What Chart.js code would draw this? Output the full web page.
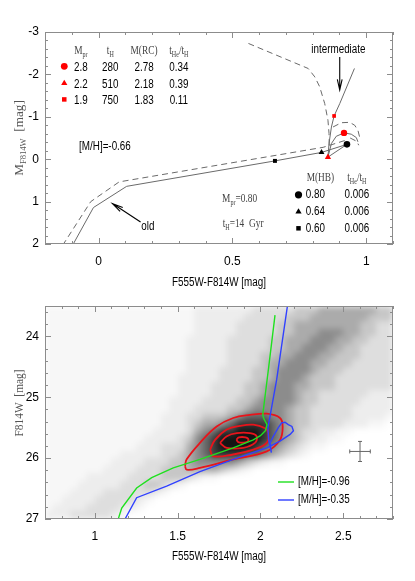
<!DOCTYPE html>
<html>
<head>
<meta charset="utf-8">
<script src="https://cdn.jsdelivr.net/npm/chart.js@4.4.0/dist/chart.umd.min.js"></script>
<style>
  html, body { margin: 0; padding: 0; background: #fff; }
  #wrap { position: relative; width: 415px; height: 581px; }
  canvas { position: absolute; left: 0; }
</style>
</head>
<body>
<div id="wrap">
  <canvas id="top" width="415" height="290" style="top:0;width:415px;height:290px"></canvas>
  <canvas id="bottom" width="415" height="291" style="top:290px;width:415px;height:291px"></canvas>
</div>
<script>
// ---------- top panel: tracks, colour F555W-F814W vs M_F814W ----------
const oldSolid = [[-0.097, 2.03], [-0.019, 1.14], [0.105, 0.64], [0.659, 0.04], [0.833, -0.16], [0.928, -0.35]];
const oldDashed = [[-0.134, 2.03], [-0.029, 1.0], [0.077, 0.535], [0.839, -0.28], [0.93, -0.46]];
const interSolid = [[0.956, -2.14], [0.901, -1.31], [0.880, -1.02], [0.870, -0.76], [0.861, -0.37], [0.857, -0.05]];
const interLoop = [[0.857, -0.05], [0.870, -0.37], [0.888, -0.54], [0.917, -0.62], [0.944, -0.59], [0.963, -0.51], [0.969, -0.41]];
const interLink = [[0.857, -0.05], [0.928, -0.35]];
const interDashed = [[0.56, -2.73], [0.783, -2.14], [0.808, -1.94], [0.826, -1.71], [0.845, -1.31], [0.857, -0.92], [0.861, -0.61], [0.862, -0.30]];
const interDashedLoop = [[0.876, -0.76], [0.907, -0.86], [0.938, -0.87], [0.957, -0.80], [0.969, -0.68], [0.975, -0.53]];
const interDashedTail = [[0.94, -0.50], [0.965, -0.42], [0.972, -0.33]];

// red clump stars (circle, triangle, square) and HB stars
const rcColor = [0.917, 0.857, 0.880];
const rcMag = [-0.62, -0.05, -1.02];
const hbColor = [0.928, 0.833, 0.659];
const hbMag = [-0.35, -0.16, 0.04];
const markerShapes = ['circle', 'triangle', 'rect'];

// tables printed in the panel
const rcMpr = ['2.8', '2.2', '1.9'];
const rcTH = ['280', '510', '750'];
const rcMass = ['2.78', '2.18', '1.83'];
const rcRatio = ['0.34', '0.39', '0.11'];
const hbMass = ['0.80', '0.64', '0.60'];
const hbRatio = ['0.006', '0.006', '0.006'];

const topXTicks = [0, 0.5, 1];
const topYTicks = [-3, -2, -1, 0, 1, 2];

// ---------- bottom panel: observed CMD ----------
const isoPoor = [[1.142, 27.0], [1.163, 26.82], [1.253, 26.49], [1.344, 26.32], [1.474, 26.16], [1.635, 26.02], [1.836, 25.83], [1.957, 25.70], [2.0, 25.63], [2.03, 25.55], [2.04, 25.45], [2.02, 25.35], [2.014, 25.29], [2.05, 24.5], [2.088, 23.65]];
const isoRich = [[1.183, 27.0], [1.253, 26.65], [1.434, 26.46], [1.635, 26.22], [1.836, 26.02], [2.038, 25.83], [2.118, 25.72], [2.179, 25.61], [2.199, 25.55], [2.19, 25.48], [2.168, 25.45], [2.148, 25.41], [2.128, 25.42], [2.108, 25.50], [2.078, 25.64], [2.058, 25.75], [2.066, 25.91], [2.05, 25.7], [2.045, 25.5], [2.058, 25.31], [2.098, 24.71], [2.163, 23.5]];
const contour1 = [[1.545, 26.13], [1.555, 26.19], [1.635, 26.16], [1.836, 26.02], [2.038, 25.89], [2.118, 25.70], [2.134, 25.48], [2.118, 25.34], [2.038, 25.27], [1.937, 25.29], [1.836, 25.34], [1.736, 25.48], [1.635, 25.75], [1.555, 26.02], [1.545, 26.13]];
const contour2 = [[1.696, 25.86], [1.716, 25.97], [1.836, 25.94], [1.957, 25.86], [2.038, 25.75], [2.048, 25.59], [2.028, 25.51], [1.957, 25.45], [1.876, 25.47], [1.797, 25.53], [1.726, 25.70], [1.696, 25.86]];
const contour3 = [[1.756, 25.75], [1.797, 25.83], [1.897, 25.83], [1.967, 25.75], [1.977, 25.64], [1.937, 25.59], [1.857, 25.59], [1.797, 25.64], [1.756, 25.75]];
const contour4 = [[1.855, 25.70], [1.87, 25.74], [1.91, 25.74], [1.928, 25.70], [1.91, 25.66], [1.87, 25.66], [1.855, 25.70]];
const errColor = 2.601, errMag = 25.89, errColorSig = 0.062, errMagSig = 0.165;
const legendLabels = ['[M/H]=-0.96', '[M/H]=-0.35'];
const botXTicks = [1, 1.5, 2, 2.5];
const botYTicks = [24, 25, 26, 27];

// star density: columns of 0.05 mag from 0.70, rows of 0.125 mag from 23.5 (0 = empty, 9 = black)
const densColorMin = 0.70, densColorStep = 0.05, densMagMin = 23.5, densMagStep = 0.125;
const densityRows = [
  '1111111111 1111111122 2222233333 4445555555 44',
  '1111111111 1111111122 2222333334 4455555554 44',
  '1111111111 1111111122 2223333344 5555555544 33',
  '1111111111 1111111122 2223333344 5556665544 33',
  '1111111111 1111111222 2233333445 5566655443 33',
  '1111111111 1111111222 2233333445 5666554433 33',
  '1111111111 1111111222 2233334455 6665544433 33',
  '1111111111 1111111222 2233334556 6655444333 33',
  '1111111111 1111111222 2333344566 6654443333 33',
  '1111111111 1111112222 2333344566 6544433333 33',
  '1111111111 1111112222 3333445666 5544433333 33',
  '1111111111 1111112222 3333445666 5443333332 22',
  '1111111111 1111122223 3334456666 5443333322 22',
  '1111111111 1111122233 3344566665 4433333222 22',
  '1111111111 1111222334 4456777665 4433333222 21',
  '1111111111 1111222345 5678888765 4433332221 10',
  '1111111111 1112222356 7889998765 4332211000 00',
  '1111111111 1122223467 8999998765 4322110000 00',
  '1111111111 1222333567 8999987654 3211000000 00',
  '1111111112 2222334567 8888776543 2100000000 00',
  '1111111122 2233344566 6665432110 0000000000 00',
  '1111111222 2333444555 5432100000 0000000000 00',
  '1111122222 3333444321 1000000000 0000000000 00',
  '1111222223 3344321000 0000000000 0000000000 00',
  '1112222333 3332100000 0000000000 0000000000 00',
  '1122223333 3210000000 0000000000 0000000000 00',
  '1222233332 2100000000 0000000000 0000000000 00',
  '2223333321 0000000000 0000000000 0000000000 00'
];

const SANS = '"Liberation Sans", Arial, sans-serif';
const SERIF = '"Liberation Serif", "Times New Roman", serif';
const shade = [0, 0.03, 0.07, 0.13, 0.22, 0.33, 0.45, 0.6, 0.78, 0.92];
Chart.defaults.font.family = SANS;

// text with optional subscripts: parts = [[text, isSub], ...]
function richWidth(ctx, parts, size, fam) {
  let w = 0;
  for (const [t, sub] of parts) { ctx.font = (sub ? size * 0.65 : size) + 'px ' + fam; w += ctx.measureText(t).width; }
  return w;
}
function drawText(ctx, parts, x, y, o) {
  if (typeof parts === 'string') parts = [[parts, 0]];
  const size = o.size || 12, fam = o.family || SANS, sx = o.sx || 1;
  ctx.save();
  const w = richWidth(ctx, parts, size, fam) * sx;
  const x0 = o.align === 'left' ? x : o.align === 'right' ? x - w : x - w / 2;
  ctx.translate(x0, y);
  ctx.scale(sx, 1);
  ctx.fillStyle = o.color || '#000';
  ctx.textBaseline = 'middle';
  let cx = 0;
  for (const [t, sub] of parts) {
    ctx.font = (sub ? size * 0.65 : size) + 'px ' + fam;
    ctx.fillText(t, cx, sub ? size * 0.32 : 0);
    cx += ctx.measureText(t).width;
  }
  ctx.restore();
}
function rotText(ctx, parts, x, y, o) {
  ctx.save(); ctx.translate(x, y); ctx.rotate(-Math.PI / 2);
  drawText(ctx, parts, 0, 0, o);
  ctx.restore();
}
function arrow(ctx, x0, y0, x1, y1) {
  const a = Math.atan2(y1 - y0, x1 - x0), L = 11;
  ctx.beginPath();
  ctx.moveTo(x0, y0); ctx.lineTo(x1, y1);
  ctx.moveTo(x1 - L * Math.cos(a - 0.22), y1 - L * Math.sin(a - 0.22)); ctx.lineTo(x1, y1);
  ctx.lineTo(x1 - L * Math.cos(a + 0.22), y1 - L * Math.sin(a + 0.22));
  ctx.stroke();
}

const SERIF_TXT = { family: SERIF, size: 13, sx: 0.72, color: '#444' };
const SANS_TXT = { family: SANS, size: 12, sx: 0.82, color: '#000' };

function pts(list) { return list.map(([x, y]) => ({ x, y })); }
function track(list, dashed) {
  return { data: pts(list), showLine: true, pointRadius: 0, borderColor: '#6a6a6a', borderWidth: 1, borderDash: dashed ? [6, 4] : [], tension: 0 };
}
function marks(xs, ys, color, radii) {
  return { data: xs.map((x, i) => ({ x, y: ys[i] })), showLine: false, pointStyle: markerShapes, pointRadius: radii, backgroundColor: color, borderColor: color, borderWidth: 0 };
}

// frame with inward ticks on all four sides
function frameTicks(xMinor, xMajor, yMinor, yMajor) {
  const each = (min, max, step, major, fn) => {
    const k0 = Math.ceil(Math.min(min, max) / step - 1e-6), k1 = Math.floor(Math.max(min, max) / step + 1e-6);
    for (let k = k0; k <= k1; k++) { const v = k * step, r = v / major; fn(v, Math.abs(r - Math.round(r)) < 1e-6); }
  };
  return {
    id: 'frameTicks',
    afterDraw(chart) {
      const { ctx, chartArea: a, scales: { x, y } } = chart;
      ctx.save();
      ctx.strokeStyle = '#8c8c8c'; ctx.lineWidth = 1;
      ctx.strokeRect(Math.round(a.left) + 0.5, Math.round(a.top) + 0.5, Math.round(a.width) - 1, Math.round(a.height) - 1);
      ctx.beginPath();
      each(x.min, x.max, xMinor, xMajor, (v, major) => {
        const p = Math.round(x.getPixelForValue(v)) + 0.5, len = major ? 6 : 3;
        ctx.moveTo(p, a.bottom); ctx.lineTo(p, a.bottom - len);
        ctx.moveTo(p, a.top); ctx.lineTo(p, a.top + len);
      });
      each(y.min, y.max, yMinor, yMajor, (v, major) => {
        const p = Math.round(y.getPixelForValue(v)) + 0.5, len = major ? 6 : 3;
        ctx.moveTo(a.left, p); ctx.lineTo(a.left + len, p);
        ctx.moveTo(a.right, p); ctx.lineTo(a.right - len, p);
      });
      ctx.stroke();
      ctx.restore();
    }
  };
}

function panelOptions(xr, xt, yr, yt, top, xh) {
  const label = v => String(v);
  return {
    responsive: false, animation: false, events: [],
    layout: { padding: { top: top, right: 22, left: 0, bottom: 0 } },
    plugins: { legend: { display: false }, tooltip: { enabled: false } },
    scales: {
      x: {
        type: 'linear', min: xr[0], max: xr[1],
        grid: { display: false, drawTicks: false }, border: { display: false },
        ticks: { color: '#000', font: { size: 12 }, padding: 10, maxRotation: 0, autoSkip: false, callback: label },
        afterBuildTicks: s => { s.ticks = xt.map(v => ({ value: v })); },
        afterFit: s => { s.height = xh; }
      },
      y: {
        type: 'linear', reverse: true, min: yr[0], max: yr[1],
        grid: { display: false, drawTicks: false }, border: { display: false },
        ticks: { color: '#000', font: { size: 12 }, padding: 6, autoSkip: false, callback: label },
        afterBuildTicks: s => { s.ticks = yt.map(v => ({ value: v })); },
        afterFit: s => { s.width = 45; }
      }
    }
  };
}

// texts, table keys and arrows of the top panel
const topNotes = {
  id: 'topNotes',
  afterDatasetsDraw(chart) {
    const { ctx } = chart;
    const X = v => chart.scales.x.getPixelForValue(v), Y = v => chart.scales.y.getPixelForValue(v);
    const keyDraw = (shape, color, r, x, y) => {
      ctx.save(); ctx.fillStyle = color; ctx.beginPath();
      if (shape === 'circle') ctx.arc(x, y, r, 0, Math.PI * 2);
      else if (shape === 'rect') ctx.rect(x - r * 0.75, y - r * 0.75, r * 1.5, r * 1.5);
      else { ctx.moveTo(x, y - r); ctx.lineTo(x + r * 0.87, y + r * 0.5); ctx.lineTo(x - r * 0.87, y + r * 0.5); ctx.closePath(); }
      ctx.fill(); ctx.restore();
    };

    // red clump table
    const rcCols = [-0.066, 0.044, 0.17, 0.30];
    const rcRows = [-2.15, -1.75, -1.37];
    drawText(ctx, [['M', 0], ['pr', 1]], X(rcCols[0]), Y(-2.57), SERIF_TXT);
    drawText(ctx, [['t', 0], ['H', 1]], X(rcCols[1]), Y(-2.57), SERIF_TXT);
    drawText(ctx, 'M(RC)', X(rcCols[2]), Y(-2.57), SERIF_TXT);
    drawText(ctx, [['t', 0], ['He', 1], ['/t', 0], ['H', 1]], X(rcCols[3]), Y(-2.57), SERIF_TXT);
    [rcMpr, rcTH, rcMass, rcRatio].forEach((col, c) => col.forEach((v, r) => drawText(ctx, v, X(rcCols[c]), Y(rcRows[r]), SANS_TXT)));
    markerShapes.forEach((s, r) => keyDraw(s, '#f00', [3.4, 3.6, 3][r], X(-0.128), Y(rcRows[r] - 0.04)));

    // HB table
    const hbCols = [0.81, 0.965];
    const hbRows = [0.84, 1.24, 1.63];
    drawText(ctx, 'M(HB)', X(0.829), Y(0.43), SERIF_TXT);
    drawText(ctx, [['t', 0], ['He', 1], ['/t', 0], ['H', 1]], X(hbCols[1]), Y(0.43), SERIF_TXT);
    [hbMass, hbRatio].forEach((col, c) => col.forEach((v, r) => drawText(ctx, v, X(hbCols[c]), Y(hbRows[r]), SANS_TXT)));
    markerShapes.forEach((s, r) => keyDraw(s, '#000', [3.6, 3.6, 3][r], X(0.747), Y(hbRows[r])));

    drawText(ctx, [['M', 0], ['pr', 1], ['=0.80', 0]], X(0.527), Y(0.94), SERIF_TXT);
    drawText(ctx, [['t', 0], ['H', 1], ['=14  Gyr', 0]], X(0.54), Y(1.52), SERIF_TXT);
    drawText(ctx, '[M/H]=-0.66', X(0.024), Y(-0.29), SANS_TXT);
    drawText(ctx, 'intermediate', X(0.896), Y(-2.59), SANS_TXT);
    drawText(ctx, 'old', X(0.184), Y(1.58), SANS_TXT);

    ctx.save();
    ctx.strokeStyle = '#000'; ctx.lineWidth = 1.1;
    arrow(ctx, X(0.901), Y(-2.41), X(0.901), Y(-1.63));
    arrow(ctx, X(0.157), Y(1.48), X(0.052), Y(1.045));
    ctx.restore();

    rotText(ctx, [['M', 0], ['F814W', 1], ['  [mag]', 0]], 20, 138, { family: SERIF, size: 12, sx: 1.1, color: '#555' });
    drawText(ctx, 'F555W-F814W [mag]', 219, 283, SANS_TXT);
  }
};

// gray star density drawn through the axes, blurred a little
const densityLayer = {
  id: 'densityLayer',
  beforeDatasetsDraw(chart) {
    const { ctx, chartArea: a, scales: { x, y } } = chart;
    const off = document.createElement('canvas');
    off.width = chart.width; off.height = chart.height;
    const o = off.getContext('2d');
    densityRows.forEach((row, i) => {
      const cells = row.replace(/ /g, '');
      const y0 = Math.round(y.getPixelForValue(densMagMin + i * densMagStep));
      const y1 = Math.round(y.getPixelForValue(densMagMin + (i + 1) * densMagStep));
      for (let j = 0; j < cells.length; j++) {
        const d = +cells[j];
        if (!d) continue;
        const x0 = Math.round(x.getPixelForValue(densColorMin + j * densColorStep));
        const x1 = Math.round(x.getPixelForValue(densColorMin + (j + 1) * densColorStep));
        o.fillStyle = 'rgba(0,0,0,' + shade[d] + ')';
        o.fillRect(x0, y0, x1 - x0, y1 - y0);
      }
    });
    ctx.save();
    ctx.beginPath(); ctx.rect(a.left, a.top, a.width, a.height); ctx.clip();
    ctx.filter = 'blur(3px)';
    ctx.drawImage(off, 0, 0);
    ctx.restore();
  }
};

const bottomNotes = {
  id: 'bottomNotes',
  afterDatasetsDraw(chart) {
    const { ctx, chartArea: a } = chart;
    const X = v => chart.scales.x.getPixelForValue(v), Y = v => chart.scales.y.getPixelForValue(v);
    // error cross
    ctx.save();
    ctx.strokeStyle = '#666'; ctx.lineWidth = 1;
    const cx = X(errColor), cy = Y(errMag);
    const xl = X(errColor - errColorSig), xr = X(errColor + errColorSig), yt = Y(errMag - errMagSig), yb = Y(errMag + errMagSig);
    ctx.beginPath();
    ctx.moveTo(xl, cy); ctx.lineTo(xr, cy); ctx.moveTo(cx, yt); ctx.lineTo(cx, yb);
    ctx.moveTo(xl, cy - 2); ctx.lineTo(xl, cy + 2); ctx.moveTo(xr, cy - 2); ctx.lineTo(xr, cy + 2);
    ctx.moveTo(cx - 2, yt); ctx.lineTo(cx + 2, yt); ctx.moveTo(cx - 2, yb); ctx.lineTo(cx + 2, yb);
    ctx.stroke();
    // legend
    const lx = a.right - 115, ly = [a.bottom - 37, a.bottom - 19];
    ['#1fe01f', '#3040ff'].forEach((c, i) => {
      ctx.strokeStyle = c; ctx.lineWidth = 1.4;
      ctx.beginPath(); ctx.moveTo(lx, ly[i]); ctx.lineTo(lx + 16, ly[i]); ctx.stroke();
      drawText(ctx, legendLabels[i], lx + 20, ly[i], Object.assign({}, SANS_TXT, { align: 'left' }));
    });
    ctx.restore();
    rotText(ctx, [['F814W  [mag]', 0]], 20, 113, { family: SERIF, size: 12, sx: 0.95, color: '#555' });
    drawText(ctx, 'F555W-F814W [mag]', 219, 267, SANS_TXT);
  }
};

new Chart(document.getElementById('top'), {
  type: 'scatter',
  data: {
    datasets: [
      marks(rcColor, rcMag, '#f00', [3.2, 3.6, 2.6]),
      marks(hbColor, hbMag, '#000', [3.3, 3.4, 2.8]),
      track(oldSolid), track(oldDashed, true),
      track(interSolid), track(interLoop), track(interLink),
      track(interDashed, true), track(interDashedLoop, true), track(interDashedTail, true)
    ]
  },
  options: panelOptions([-0.2, 1.1], topXTicks, [-3, 2], topYTicks, 32, 46),
  plugins: [topNotes, frameTicks(0.1, 0.5, 0.2, 1)]
});

new Chart(document.getElementById('bottom'), {
  type: 'scatter',
  data: {
    datasets: [
      { data: pts(isoPoor), showLine: true, pointRadius: 0, borderColor: '#1fe01f', borderWidth: 1.4, tension: 0 },
      { data: pts(isoRich), showLine: true, pointRadius: 0, borderColor: '#3040ff', borderWidth: 1.4, tension: 0 },
      ...[contour1, contour2, contour3, contour4].map(c => ({ data: pts(c), showLine: true, pointRadius: 0, borderColor: '#e8141b', borderWidth: 1.8, tension: 0.4 }))
    ]
  },
  options: panelOptions([0.7, 2.8], botXTicks, [23.5, 27], botYTicks, 16, 62),
  plugins: [densityLayer, bottomNotes, frameTicks(0.1, 0.5, 0.2, 1)]
});
</script>
</body>
</html>
